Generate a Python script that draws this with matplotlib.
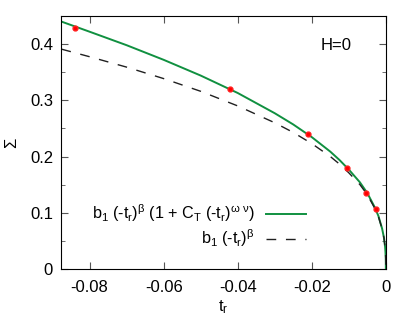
import numpy as np
import matplotlib
matplotlib.use('Agg')
import matplotlib.pyplot as plt

plt.rcParams['font.family'] = ['Liberation Sans', 'DejaVu Sans']
plt.rcParams['mathtext.default'] = 'regular'
plt.rcParams['axes.unicode_minus'] = False

# simulation points
t_data = [-0.084, -0.042, -0.021, -0.0105, -0.00525, -0.002625]
sigma_data = [0.428, 0.320, 0.240, 0.180, 0.135, 0.106]

# curves
t_curve = [-0.0876, -0.08, -0.07, -0.06, -0.05, -0.04, -0.03, -0.025, -0.02,
           -0.015, -0.0125, -0.01, -0.007, -0.005, -0.003, -0.002, -0.001,
           -0.0005, -0.0002, -0.0001, -0.00003, -0.00001, 0.0]
sigma_corr = [0.440, 0.422, 0.398, 0.372, 0.344, 0.313, 0.277, 0.257, 0.2345,
              0.2087, 0.1937, 0.1768, 0.1541, 0.135, 0.1098, 0.0942, 0.0716,
              0.0553, 0.039, 0.030, 0.019, 0.012, 0.0]
sigma_lead = [0.391, 0.3775, 0.359, 0.3386, 0.316, 0.290, 0.260, 0.2428, 0.223,
              0.200, 0.1865, 0.171, 0.150, 0.132, 0.108, 0.093, 0.071,
              0.055, 0.039, 0.030, 0.019, 0.012, 0.0]

xticks = [-0.08, -0.06, -0.04, -0.02, 0.0]
xticklabels = ['-0.08', '-0.06', '-0.04', '-0.02', '0']
yticks = [0.0, 0.1, 0.2, 0.3, 0.4]
yticklabels = ['0', '0.1', '0.2', '0.3', '0.4']

fs = 12

fig = plt.figure(figsize=(4.07, 3.26), dpi=100)
ax = fig.add_axes([0.151, 0.175, 0.797, 0.776])

ax.plot(t_curve, sigma_corr, color='#109040', lw=1.4,
        label=r'b$_1$ (-t$_r$)$^{\beta}$ (1 + C$_T$ (-t$_r$)$^{\omega\ \nu}$)')
ax.plot(t_curve, sigma_lead, color='#202020', lw=1.0, dashes=(7, 7),
        label=r'b$_1$ (-t$_r$)$^{\beta}$')
ax.plot(t_data, sigma_data, 'o', color='red', ms=3.5, mec='#ff2020')

ax.set_xlim(-0.0876, 0.0)
ax.set_ylim(0.0, 0.45)
ax.set_xticks(xticks, xticklabels)
ax.set_yticks(yticks, yticklabels)
ax.set_yticks(np.arange(0.05, 0.45, 0.1), minor=True)
ax.tick_params(which='both', direction='in', top=True, right=True,
               labelsize=fs, color='#555555')
ax.tick_params(axis='x', pad=8)
ax.tick_params(axis='y', pad=6)
ax.tick_params(which='major', length=5)
ax.tick_params(which='minor', length=3)

ax.set_xlabel(r't$_r$', fontsize=fs, labelpad=2)
ax.set_ylabel('Σ', fontsize=fs, labelpad=8)

ax.text(0.848, 0.885, 'H=0', transform=ax.transAxes, fontsize=fs,
        ha='center', va='center')

ax.legend(loc='center right', bbox_to_anchor=(0.80, 0.17), frameon=False,
          markerfirst=False, fontsize=11.6, handlelength=2.5,
          handletextpad=0.7, labelspacing=0.2)

plt.savefig('out.png', dpi=100)
plt.close()
